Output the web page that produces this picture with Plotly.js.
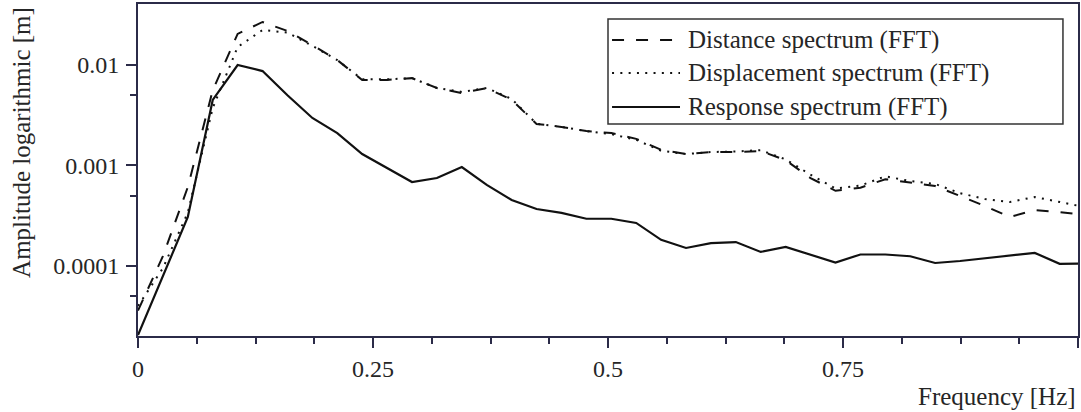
<!DOCTYPE html>
<html>
<head>
<meta charset="utf-8">
<script src="https://cdn.plot.ly/plotly-3.0.1.min.js"></script>
<style>html,body{margin:0;padding:0;background:#fff;}#chart{width:1081px;height:412px;}</style>
</head>
<body>
<div id="chart"></div>
<script>
// Frequency samples [Hz]
const freq = [0, 0.0265, 0.053, 0.0795, 0.106, 0.1325, 0.159, 0.1855, 0.212, 0.2385,
  0.265, 0.2915, 0.318, 0.3445, 0.371, 0.3975, 0.424, 0.4505, 0.477, 0.5035,
  0.53, 0.5565, 0.583, 0.6095, 0.636, 0.6625, 0.689, 0.7155, 0.742, 0.7685,
  0.795, 0.8215, 0.848, 0.8745, 0.901, 0.9275, 0.954, 0.9805, 1.007];

// Distance spectrum (FFT) [m]
const distance = [3.6e-5, 1.25e-4, 6.1e-4, 5.6e-3, 2.04e-2, 2.68e-2, 2.18e-2, 1.58e-2, 1.12e-2, 7.1e-3,
  7.1e-3, 7.4e-3, 5.9e-3, 5.26e-3, 5.9e-3, 4.5e-3, 2.59e-3, 2.42e-3, 2.2e-3, 2.1e-3,
  1.84e-3, 1.43e-3, 1.30e-3, 1.36e-3, 1.36e-3, 1.39e-3, 1.13e-3, 7.5e-4, 5.6e-4, 6.0e-4,
  7.3e-4, 6.7e-4, 6.25e-4, 4.97e-4, 3.95e-4, 3.07e-4, 3.6e-4, 3.44e-4, 3.21e-4];

// Displacement spectrum (FFT) [m]
const displacement = [4.0e-5, 9.5e-5, 3.4e-4, 3.73e-3, 1.51e-2, 2.23e-2, 2.1e-2, 1.55e-2, 1.12e-2, 7.2e-3,
  7.2e-3, 7.4e-3, 5.9e-3, 5.4e-3, 5.9e-3, 4.6e-3, 2.6e-3, 2.42e-3, 2.2e-3, 2.05e-3,
  1.8e-3, 1.4e-3, 1.30e-3, 1.36e-3, 1.38e-3, 1.42e-3, 1.15e-3, 8.1e-4, 5.9e-4, 6.3e-4,
  7.8e-4, 7.0e-4, 6.55e-4, 5.3e-4, 4.64e-4, 4.33e-4, 4.86e-4, 4.33e-4, 3.86e-4];

// Response spectrum (FFT) [m]
const response = [2.05e-5, 7.9e-5, 3.07e-4, 4.49e-3, 1.0e-2, 8.7e-3, 5.0e-3, 2.97e-3, 2.1e-3, 1.30e-3,
  9.4e-4, 6.85e-4, 7.5e-4, 9.66e-4, 6.4e-4, 4.54e-4, 3.69e-4, 3.37e-4, 2.95e-4, 2.95e-4,
  2.68e-4, 1.82e-4, 1.51e-4, 1.69e-4, 1.73e-4, 1.38e-4, 1.55e-4, 1.3e-4, 1.08e-4, 1.30e-4,
  1.30e-4, 1.25e-4, 1.07e-4, 1.12e-4, 1.19e-4, 1.26e-4, 1.35e-4, 1.05e-4, 1.06e-4];

const seriesNames = ['Distance spectrum (FFT)', 'Displacement spectrum (FFT)', 'Response spectrum (FFT)'];
const xTickVals = [0, 0.25, 0.5, 0.75, 1];
const xTickText = ['0', '0.25', '0.5', '0.75', '1'];
const yTickVals = [0.0001, 0.001, 0.01];
const yTickText = ['0.0001', '0.001', '0.01'];
const xTitle = 'Frequency [Hz]';
const yTitle = 'Amplitude logarithmic [m]';

const FONT = '"Liberation Serif", "Times New Roman", serif';
const TXT = '#262626';
const AX = '#2b2b48';
const dashes = ['12px,12px', '2px,6.3px', 'solid'];
const lineW = [2, 2, 2.2];
const ys = [distance, displacement, response];

const traces = ys.map((y, i) => ({
  x: freq, y: y, type: 'scatter', mode: 'lines', name: seriesNames[i],
  line: {color: '#111111', width: lineW[i], dash: dashes[i]},
  showlegend: false
}));

// custom legend (box, samples, labels) in paper coordinates
const legRows = [0.8916, 0.7922, 0.6898];
const shapes = [{type: 'rect', xref: 'paper', yref: 'paper', x0: 0.5, x1: 0.984, y0: 0.6386, y1: 0.9548,
  line: {color: '#333333', width: 1.5}, fillcolor: 'rgba(255,255,255,0)'}];
const annotations = [];
seriesNames.forEach((n, i) => {
  shapes.push({type: 'line', xref: 'paper', yref: 'paper', x0: 0.5043, x1: 0.5766, y0: legRows[i], y1: legRows[i],
    line: {color: '#111111', width: lineW[i], dash: dashes[i]}});
  annotations.push({xref: 'paper', yref: 'paper', x: 0.583, y: legRows[i], xanchor: 'left', yanchor: 'middle',
    text: n, showarrow: false, font: {family: FONT, size: 25, color: TXT}});
});
annotations.push({xref: 'paper', yref: 'paper', x: 1, y: -0.181, xanchor: 'right', yanchor: 'middle',
  text: xTitle, showarrow: false, font: {family: FONT, size: 25, color: TXT}});
annotations.push({xref: 'paper', yref: 'paper', x: -0.124, y: 0.583, xanchor: 'center', yanchor: 'middle',
  text: yTitle, textangle: -90, showarrow: false, font: {family: FONT, size: 25, color: TXT}});

const layout = {
  width: 1081, height: 412,
  margin: {l: 138, r: 3, t: 4, b: 76},
  paper_bgcolor: '#ffffff', plot_bgcolor: '#ffffff',
  font: {family: FONT, color: TXT},
  showlegend: false,
  xaxis: {
    range: [0, 1], showgrid: false, zeroline: false,
    showline: true, linecolor: AX, linewidth: 2, mirror: true,
    ticks: 'outside', ticklen: 10, tickwidth: 2, tickcolor: AX,
    tickmode: 'array', tickvals: xTickVals, ticktext: xTickText,
    tickfont: {family: FONT, size: 24, color: TXT},
    minor: {dtick: 0.0625, tick0: 0, ticks: 'outside', ticklen: 6, tickwidth: 2, tickcolor: AX, showgrid: false}
  },
  yaxis: {
    type: 'log', range: [-4.697, -1.393], showgrid: false, zeroline: false,
    showline: true, linecolor: AX, linewidth: 2, mirror: true,
    ticks: 'outside', ticklen: 10, tickwidth: 2, tickcolor: AX,
    tickmode: 'array', tickvals: yTickVals, ticktext: yTickText,
    tickfont: {family: FONT, size: 24, color: TXT},
    ticklabelstandoff: 2,
    minor: {tickmode: 'array', tickvals: [0.00005, 0.0005, 0.005], ticks: 'outside', ticklen: 6, tickwidth: 2, tickcolor: AX, showgrid: false}
  },
  shapes: shapes,
  annotations: annotations
};

Plotly.newPlot('chart', traces, layout, {staticPlot: true, displayModeBar: false});
</script>
</body>
</html>
